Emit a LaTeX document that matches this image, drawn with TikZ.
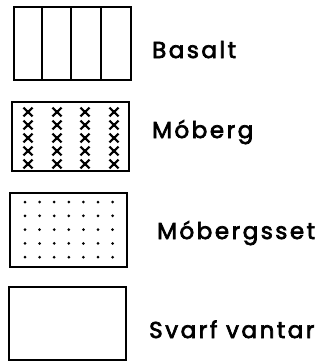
\documentclass[tikz,border=0pt]{standalone}
\usepackage{fontspec}
\newfontfamily\labfont[LetterSpace=11,FakeBold=3]{Poppins}
\begin{document}
\begin{tikzpicture}[x=1pt,y=-1pt,
  legbox/.style={draw,line width=2.8pt,minimum width=117pt,minimum height=73pt,inner sep=0pt,anchor=center},
  leglabel/.style={anchor=base west,inner sep=0pt,font=\labfont\fontsize{23}{26}\selectfont},
  inner/.style={line width=2pt},
  xmark/.style={line width=2.2pt}]
\useasboundingbox (0,0) rectangle (324,364);
% Basalt
\node[legbox] (b1) at (72.5,43.5) {};
\foreach \x in {42,71,101} \draw[inner] (\x,8) -- (\x,79);
\node[leglabel] (t1) at (152,58) {Basalt};
% Moberg
\node[legbox,minimum height=69pt] (b2) at (70.5,136.5) {};
\foreach \x in {28,57,85,114}
  \foreach \y in {112,125,138,151,164}
    \draw[xmark] (\x-4.5,\y-4.3) -- (\x+4.5,\y+4.3) (\x-4.5,\y+4.3) -- (\x+4.5,\y-4.3);
\node[leglabel] (t2) at (152,138) {Móberg};
% Mobergsset
\node[legbox,minimum height=74pt] (b3) at (68.5,230) {};
\foreach \x in {0,...,6}
  \foreach \y in {0,...,4}
    \fill (25+14.6*\x,202+13.8*\y) circle (1.5pt);
\node[leglabel] (t3) at (157,239) {Móbergsset};
% Svarf vantar
\node[legbox] (b4) at (67.5,323.5) {};
\node[leglabel] (t4) at (149,338) {Svarf vantar};
\end{tikzpicture}
\end{document}
